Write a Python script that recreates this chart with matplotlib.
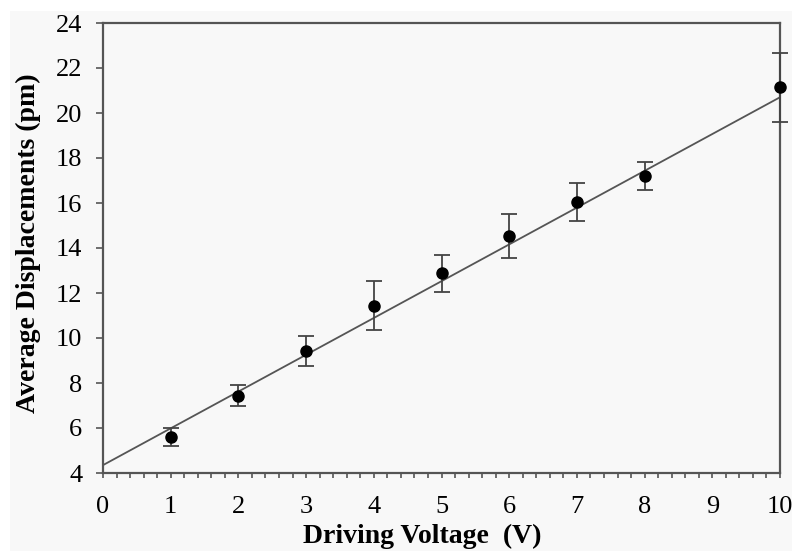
import numpy as np
import matplotlib.pyplot as plt
from matplotlib.patches import Rectangle

# data
voltage = np.array([1, 2, 3, 4, 5, 6, 7, 8, 10])
displacement = np.array([5.59, 7.44, 9.42, 11.44, 12.87, 14.53, 16.06, 17.22, 21.14])
error = np.array([0.40, 0.45, 0.68, 1.10, 0.82, 0.98, 0.85, 0.62, 1.53])

# linear fit line endpoints
fit_x = np.array([0, 10])
fit_y = np.array([4.35, 20.70])

plt.rcParams['font.family'] = ['Liberation Serif', 'DejaVu Serif']

W, H = 792, 551
fig = plt.figure(figsize=(W / 100, H / 100), dpi=100, facecolor='white')
# light grey scan background (white strip on top and left)
fig.patches.append(Rectangle((10 / W, 0), 1, 1 - 11 / H, transform=fig.transFigure,
                             facecolor='#f8f8f8', edgecolor='none', zorder=-10))

ax = fig.add_axes([103 / W, 1 - 473 / H, 677 / W, 450 / H])
ax.set_facecolor('#f8f8f8')

ax.plot(fit_x, fit_y, color='#555555', lw=1.3, zorder=2)
ax.errorbar(voltage, displacement, yerr=error, fmt='o', color='black', ms=8,
            ecolor='#444444', elinewidth=1.3, capsize=5.5, capthick=1.3,
            zorder=3, clip_on=False)

ax.set_xlim(0, 10)
ax.set_ylim(4, 24)
ax.set_xticks(np.arange(0, 11, 1))
ax.set_yticks(np.arange(4, 25, 2))
ax.set_xticks(np.arange(0, 10.01, 0.2), minor=True)
ax.tick_params(axis='x', which='both', length=3.5, width=1.2, color='#555555')
ax.tick_params(axis='x', which='major', labelsize=19, pad=13)
ax.tick_params(axis='y', which='major', length=5, width=1.2, color='#555555',
               labelsize=19, pad=10)

for s in ax.spines.values():
    s.set_color('#555555')
    s.set_linewidth(1.6)

fig.text(422 / W, 8 / H, 'Driving Voltage  (V)', fontsize=20, fontweight='bold',
         ha='center', va='baseline')
fig.text(28 / W, 1 - 243 / H, 'Average Displacements (pm)', fontsize=20,
         fontweight='bold', rotation=90, ha='center', va='center')

fig.savefig('out.png', dpi=100, facecolor=fig.get_facecolor())
